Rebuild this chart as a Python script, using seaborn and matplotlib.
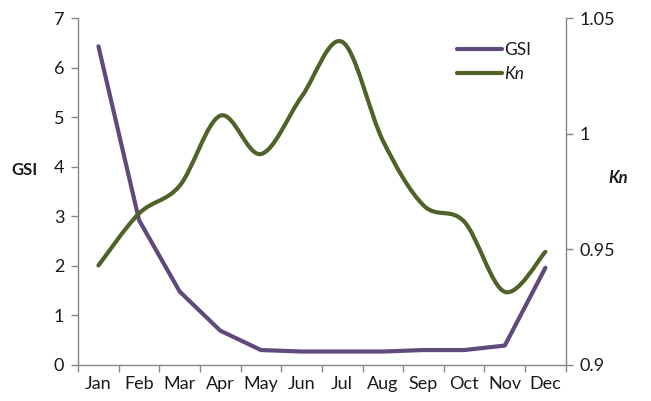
import matplotlib
matplotlib.use("Agg")
import matplotlib.pyplot as plt
from matplotlib.path import Path
from matplotlib.patches import PathPatch
from matplotlib.lines import Line2D
import seaborn as sns
import pandas as pd
import numpy as np

months = ["Jan", "Feb", "Mar", "Apr", "May", "Jun",
          "Jul", "Aug", "Sep", "Oct", "Nov", "Dec"]
gsi = [6.43, 2.92, 1.48, 0.69, 0.30, 0.27, 0.27, 0.27, 0.30, 0.30, 0.39, 1.96]
kn = [0.943, 0.9655, 0.9775, 1.0078, 0.9912, 1.016, 1.0397, 0.997,
      0.969, 0.962, 0.9316, 0.9489]

gsi_ticks = [0, 1, 2, 3, 4, 5, 6, 7]
kn_ticks = [0.9, 0.95, 1.0, 1.05]
kn_ticklabels = ["0.9", "0.95", "1", "1.05"]

purple = "#604A7B"
green = "#4F6228"
spine_col = "#868686"
text_col = "#1a1a1a"

sns.set_theme(style="white")
plt.rcParams["font.family"] = ["Lato", "DejaVu Sans"]

df = pd.DataFrame({"pos": np.arange(len(months)), "GSI": gsi, "Kn": kn})

fig = plt.figure(figsize=(6.51, 4.01), dpi=100)
ax = fig.add_axes([0.12, 0.09, 0.749, 0.865])
ax2 = ax.twinx()

sns.lineplot(data=df, x="pos", y="GSI", ax=ax, color=purple, lw=3,
             solid_capstyle="round", solid_joinstyle="round")


def smooth_path(x, y):
    # cubic Bezier segments with Catmull-Rom style control points
    x = np.asarray(x, float)
    y = np.asarray(y, float)
    n = len(x)
    verts = [(x[0], y[0])]
    codes = [Path.MOVETO]
    for i in range(n - 1):
        x0, y0 = (x[i - 1], y[i - 1]) if i > 0 else (x[i], y[i])
        x3, y3 = (x[i + 2], y[i + 2]) if i + 2 < n else (x[i + 1], y[i + 1])
        c1 = (x[i] + (x[i + 1] - x0) / 6, y[i] + (y[i + 1] - y0) / 6)
        c2 = (x[i + 1] - (x3 - x[i]) / 6, y[i + 1] - (y3 - y[i]) / 6)
        verts += [c1, c2, (x[i + 1], y[i + 1])]
        codes += [Path.CURVE4] * 3
    return Path(verts, codes)


ax2.add_patch(PathPatch(smooth_path(df["pos"], df["Kn"]), fill=False,
                        edgecolor=green, lw=3, capstyle="round",
                        joinstyle="round"))

ax.set_xlim(-0.5, len(months) - 0.5)
ax.set_ylim(0, 7)
ax2.set_ylim(0.9, 1.05)

tick_fs = 13

ax.set_xticks(np.arange(len(months)))
ax.set_xticklabels(months)
ax.set_xticks(np.arange(-0.5, len(months)), minor=True)
ax.tick_params(axis="x", which="major", length=0, pad=8,
               labelsize=tick_fs, labelcolor=text_col)
ax.tick_params(axis="x", which="minor", length=5, width=1,
               color=spine_col, direction="out", bottom=True)
ax.set_yticks(gsi_ticks)
ax.tick_params(axis="y", length=5, width=1, color=spine_col,
               direction="out", left=True, labelsize=tick_fs,
               labelcolor=text_col, pad=5)
ax2.set_yticks(kn_ticks)
ax2.set_yticklabels(kn_ticklabels)
ax2.tick_params(axis="y", length=5, width=1, color=spine_col,
                direction="out", right=True, labelsize=tick_fs,
                labelcolor=text_col, pad=5)

for a in (ax, ax2):
    a.spines["top"].set_visible(False)
    for s in ("left", "right", "bottom"):
        a.spines[s].set_color(spine_col)
        a.spines[s].set_linewidth(1)
ax.spines["right"].set_visible(False)
ax2.spines["left"].set_visible(False)
ax2.spines["bottom"].set_visible(False)

ax.set_xlabel("")
ax.set_ylabel("GSI", fontsize=12, fontweight="bold", rotation=0,
              va="center", ha="center", color=text_col)
ax2.set_ylabel("Kn", fontsize=12, fontweight="bold", fontstyle="italic",
               rotation=0, va="center", ha="center", color=text_col)
ax.yaxis.set_label_coords(-0.109, 0.562)
ax2.yaxis.set_label_coords(1.107, 0.539)

handles = [Line2D([], [], color=purple, lw=3, solid_capstyle="round"),
           Line2D([], [], color=green, lw=3, solid_capstyle="round")]
leg = ax.legend(handles, ["GSI", "Kn"], loc="upper left",
                bbox_to_anchor=(0.745, 0.975), frameon=False, fontsize=12.5,
                handlelength=2.6, handletextpad=0.1, labelspacing=0.45)
for t in leg.get_texts():
    t.set_color(text_col)
leg.get_texts()[1].set_fontstyle("italic")

fig.savefig("out.png", dpi=100)
